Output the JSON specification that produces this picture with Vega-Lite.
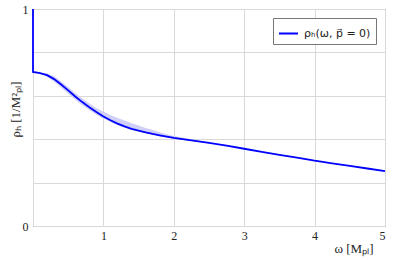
{
  "$schema": "https://vega.github.io/schema/vega-lite/v6.json",
  "width": 352,
  "height": 217,
  "autosize": {"type": "none"},
  "padding": {"left": 33, "top": 9, "right": 8, "bottom": 34},
  "background": "white",
  "config": {
    "view": {"stroke": "#6e6e6e", "strokeWidth": 1},
    "font": "Liberation Serif",
    "axis": {
      "domain": false,
      "ticks": false,
      "gridColor": "#d9d9d9",
      "gridWidth": 1,
      "labelFont": "Liberation Serif",
      "labelFontSize": 12,
      "labelColor": "#222",
      "titleFont": "Liberation Serif",
      "titleFontWeight": "normal",
      "titleFontSize": 13,
      "titleColor": "#222"
    }
  },
  "datasets": {
    "curve": [
      {"i": 0, "w": 0, "rho": 1.0},
      {"i": 1, "w": 0, "rho": 0.71},
      {"i": 2, "w": 0.1, "rho": 0.705},
      {"i": 3, "w": 0.2, "rho": 0.695},
      {"i": 4, "w": 0.3, "rho": 0.677},
      {"i": 5, "w": 0.4, "rho": 0.652},
      {"i": 6, "w": 0.5, "rho": 0.625},
      {"i": 7, "w": 0.6, "rho": 0.597},
      {"i": 8, "w": 0.7, "rho": 0.571},
      {"i": 9, "w": 0.8, "rho": 0.547},
      {"i": 10, "w": 0.9, "rho": 0.525},
      {"i": 11, "w": 1.0, "rho": 0.505},
      {"i": 12, "w": 1.1, "rho": 0.487},
      {"i": 13, "w": 1.2, "rho": 0.472},
      {"i": 14, "w": 1.3, "rho": 0.459},
      {"i": 15, "w": 1.4, "rho": 0.448},
      {"i": 16, "w": 1.5, "rho": 0.439},
      {"i": 17, "w": 1.6, "rho": 0.431},
      {"i": 18, "w": 1.7, "rho": 0.424},
      {"i": 19, "w": 1.8, "rho": 0.418},
      {"i": 20, "w": 1.9, "rho": 0.412},
      {"i": 21, "w": 2.0, "rho": 0.406},
      {"i": 22, "w": 2.25, "rho": 0.395},
      {"i": 23, "w": 2.5, "rho": 0.383},
      {"i": 24, "w": 2.75, "rho": 0.37},
      {"i": 25, "w": 3.0, "rho": 0.356},
      {"i": 26, "w": 3.25, "rho": 0.342},
      {"i": 27, "w": 3.5, "rho": 0.328},
      {"i": 28, "w": 3.75, "rho": 0.315},
      {"i": 29, "w": 4.0, "rho": 0.301},
      {"i": 30, "w": 4.25, "rho": 0.289},
      {"i": 31, "w": 4.5, "rho": 0.277},
      {"i": 32, "w": 4.75, "rho": 0.265},
      {"i": 33, "w": 5.0, "rho": 0.253}
    ],
    "band": [
      {"w": 0.15, "lo": 0.699, "hi": 0.703},
      {"w": 0.2, "lo": 0.688, "hi": 0.703},
      {"w": 0.3, "lo": 0.665, "hi": 0.69},
      {"w": 0.4, "lo": 0.638, "hi": 0.666},
      {"w": 0.5, "lo": 0.61, "hi": 0.64},
      {"w": 0.6, "lo": 0.583, "hi": 0.613},
      {"w": 0.7, "lo": 0.557, "hi": 0.587},
      {"w": 0.8, "lo": 0.534, "hi": 0.564},
      {"w": 0.9, "lo": 0.513, "hi": 0.544},
      {"w": 1.0, "lo": 0.495, "hi": 0.527},
      {"w": 1.1, "lo": 0.479, "hi": 0.512},
      {"w": 1.2, "lo": 0.465, "hi": 0.498},
      {"w": 1.3, "lo": 0.453, "hi": 0.486},
      {"w": 1.4, "lo": 0.443, "hi": 0.474},
      {"w": 1.5, "lo": 0.434, "hi": 0.463},
      {"w": 1.6, "lo": 0.427, "hi": 0.452},
      {"w": 1.7, "lo": 0.42, "hi": 0.442},
      {"w": 1.8, "lo": 0.414, "hi": 0.432},
      {"w": 1.9, "lo": 0.408, "hi": 0.423},
      {"w": 2.0, "lo": 0.402, "hi": 0.415},
      {"w": 2.25, "lo": 0.392, "hi": 0.4},
      {"w": 2.5, "lo": 0.381, "hi": 0.386}
    ]
  },
  "layer": [
    {
      "data": {"name": "band"},
      "mark": {"type": "area", "color": "#cfcff7", "opacity": 1},
      "encoding": {
        "x": {"field": "w", "type": "quantitative"},
        "y": {"field": "lo", "type": "quantitative"},
        "y2": {"field": "hi"}
      }
    },
    {
      "data": {"name": "curve"},
      "mark": {"type": "line", "strokeWidth": 1.8, "clip": false},
      "encoding": {
        "x": {
          "field": "w",
          "type": "quantitative",
          "scale": {"domain": [0, 5], "nice": false, "zero": false},
          "axis": {
            "values": [0, 1, 2, 3, 4, 5],
            "labelExpr": "datum.value == 0 ? '' : format(datum.value, 'd')",
            "labelFont": "Liberation Serif",
            "labelFontSize": 12,
            "labelPadding": 4,
            "title": "ω [Mₚₗ]",
            "titleAnchor": "start",
            "titleX": 340,
            "titleY": 26,
            "titleAlign": "right",
            "titleBaseline": "alphabetic"
          }
        },
        "y": {
          "field": "rho",
          "type": "quantitative",
          "scale": {"domain": [0, 1], "nice": false},
          "axis": {
            "values": [0, 0.2, 0.4, 0.6, 0.8, 1],
            "labelExpr": "datum.value == 0 || datum.value == 1 ? format(datum.value, 'd') : ''",
            "labelFont": "Liberation Serif",
            "labelFontSize": 12,
            "labelPadding": 5,
            "title": "ρₕ [1/M²ₚₗ]",
            "titleAngle": -90,
            "titleX": -18,
            "titleY": 100,
            "titleAlign": "center",
            "titleBaseline": "middle"
          }
        },
        "order": {"field": "i", "type": "quantitative"},
        "color": {
          "datum": "ρₕ(ω, p⃗ = 0)",
          "type": "nominal",
          "scale": {"range": ["#0000ff"]},
          "legend": {
            "title": null,
            "orient": "top-right",
            "offset": 9,
            "symbolType": "stroke",
            "symbolSize": 360,
            "symbolStrokeWidth": 2,
            "labelFont": "DejaVu Sans",
            "labelFontSize": 11,
            "labelColor": "#222",
            "labelOffset": 5,
            "fillColor": "white",
            "strokeColor": "#777",
            "padding": 5
          }
        }
      }
    }
  ]
}
